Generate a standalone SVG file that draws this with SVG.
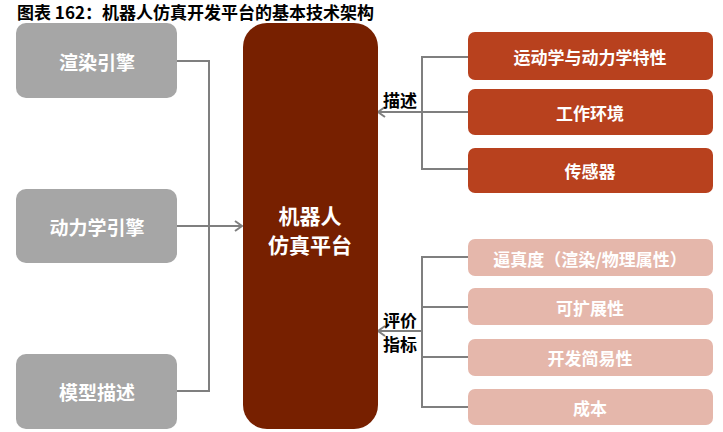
<svg xmlns="http://www.w3.org/2000/svg" width="723" height="432" viewBox="0 0 723 432">
<defs>
<marker id="arr" markerUnits="userSpaceOnUse" markerWidth="14" markerHeight="14" refX="9" refY="6" orient="auto">
<path d="M2,1 L9,6 L2,11" fill="none" stroke="#7f7f7f" stroke-width="2"/>
</marker>
<style>
text{font-family:"Noto Sans CJK SC","Noto Sans",sans-serif;font-weight:700}
.gray{fill:#a6a6a6}
.dark{fill:#772000}
.mid{fill:#b8411e}
.light{fill:#e5b7ab}
.wt{fill:#ffffff;text-anchor:middle;dominant-baseline:central}
.lbl{fill:#000000;font-size:17px;dominant-baseline:central}
.ln{fill:none;stroke:#7f7f7f;stroke-width:2}
</style>
</defs>
<rect width="723" height="432" fill="#ffffff"/>
<text x="17" y="18.5" font-size="17" fill="#000000">图表 162：机器人仿真开发平台的基本技术架构</text>

<g id="connectors">
<polyline class="ln" points="177,61 209,61 209,391 177,391"/>
<line class="ln" x1="177" y1="226" x2="242" y2="226" marker-end="url(#arr)"/>
<polyline class="ln" points="468,57 422,57 422,169 468,169"/>
<line class="ln" x1="422" y1="112" x2="468" y2="112"/>
<line class="ln" x1="422" y1="112" x2="378" y2="112" marker-end="url(#arr)"/>
<polyline class="ln" points="468,257 422,257 422,407 468,407"/>
<line class="ln" x1="422" y1="307" x2="468" y2="307"/>
<line class="ln" x1="422" y1="357" x2="468" y2="357"/>
<line class="ln" x1="422" y1="331" x2="378" y2="331" marker-end="url(#arr)"/>
<text class="lbl" x="383" y="99">描述</text>
<text class="lbl" x="383" y="319">评价</text>
<text class="lbl" x="383" y="343">指标</text>
</g>

<g id="node-render"><rect class="gray" x="16" y="23" width="161" height="75" rx="10"/><text class="wt" x="97" y="61" font-size="19">渲染引擎</text></g>
<g id="node-dynamics"><rect class="gray" x="16" y="189" width="161" height="74" rx="10"/><text class="wt" x="97" y="226" font-size="19">动力学引擎</text></g>
<g id="node-model"><rect class="gray" x="16" y="354" width="161" height="75" rx="10"/><text class="wt" x="97" y="391" font-size="19">模型描述</text></g>

<g id="node-platform"><rect class="dark" x="243" y="23" width="135" height="406" rx="24"/>
<text class="wt" x="310" y="215" font-size="21">机器人</text>
<text class="wt" x="310" y="244" font-size="21">仿真平台</text></g>

<g id="node-kin"><rect class="mid" x="468" y="32" width="245" height="48" rx="7"/><text class="wt" x="590" y="56" font-size="17">运动学与动力学特性</text></g>
<g id="node-env"><rect class="mid" x="468" y="89" width="245" height="46" rx="7"/><text class="wt" x="590" y="112" font-size="17">工作环境</text></g>
<g id="node-sensor"><rect class="mid" x="468" y="148" width="245" height="45" rx="7"/><text class="wt" x="590" y="170" font-size="17">传感器</text></g>

<g id="node-fidelity"><rect class="light" x="468" y="239" width="245" height="37" rx="7"/><text class="wt" x="590" y="258" font-size="17">逼真度（渲染/物理属性）</text></g>
<g id="node-ext"><rect class="light" x="468" y="288" width="245" height="37" rx="7"/><text class="wt" x="590" y="307" font-size="17">可扩展性</text></g>
<g id="node-ease"><rect class="light" x="468" y="339" width="245" height="37" rx="7"/><text class="wt" x="590" y="357" font-size="17">开发简易性</text></g>
<g id="node-cost"><rect class="light" x="468" y="389" width="245" height="36" rx="7"/><text class="wt" x="590" y="407" font-size="17">成本</text></g>
</svg>
